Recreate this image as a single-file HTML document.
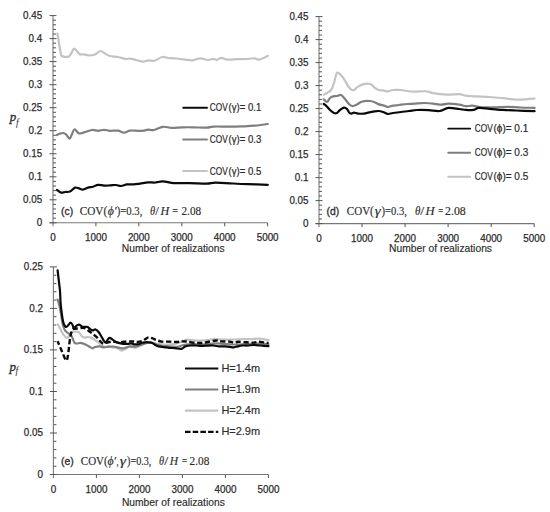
<!DOCTYPE html>
<html><head><meta charset="utf-8"><style>
html,body{margin:0;padding:0;background:#fff;width:550px;height:512px;overflow:hidden}
svg{display:block}
.t{font-family:"Liberation Sans",sans-serif;font-size:10.3px;fill:#2b2b2b;stroke:#2b2b2b;stroke-width:0.25px}
.xl{font-family:"Liberation Sans",sans-serif;font-size:10.2px;fill:#2b2b2b;stroke:#2b2b2b;stroke-width:0.15px}
.lge{font-family:"Liberation Sans",sans-serif;font-size:10.2px;fill:#2b2b2b;stroke:#2b2b2b;stroke-width:0.15px}
.lg{font-family:"Liberation Sans",sans-serif;font-size:10.1px;fill:#2b2b2b;stroke:#2b2b2b;stroke-width:0.2px}
.ann{font-family:"Liberation Sans",sans-serif;font-size:10.4px;fill:#2b2b2b;stroke:#2b2b2b;stroke-width:0.3px}
.se{font-family:"Liberation Serif",serif;font-size:11.6px;fill:#2b2b2b;stroke:#2b2b2b;stroke-width:0.15px;white-space:pre}
.pf{font-family:"Liberation Serif",serif;font-size:13px;font-style:italic;fill:#2b2b2b;stroke:#2b2b2b;stroke-width:0.3px}
.pfs{font-family:"Liberation Serif",serif;font-size:9.5px;font-style:italic;fill:#2b2b2b}
</style></head><body>
<svg width="550" height="512" viewBox="0 0 550 512">
<rect width="550" height="512" fill="#fff"/>
<path d="M53,15.6 V226.3" stroke="#777777" stroke-width="1.1" fill="none"/>
<path d="M49.5,222.8 H267.6" stroke="#777777" stroke-width="1.1" fill="none"/>
<path d="M49.5,222.8 H56.5 M53,218.2 H56 M53,213.6 H56 M53,209 H56 M53,204.4 H56 M49.5,199.8 H56.5 M53,195.2 H56 M53,190.6 H56 M53,186 H56 M53,181.4 H56 M49.5,176.8 H56.5 M53,172.2 H56 M53,167.5 H56 M53,162.9 H56 M53,158.3 H56 M49.5,153.7 H56.5 M53,149.1 H56 M53,144.5 H56 M53,139.9 H56 M53,135.3 H56 M49.5,130.7 H56.5 M53,126.1 H56 M53,121.5 H56 M53,116.9 H56 M53,112.3 H56 M49.5,107.7 H56.5 M53,103.1 H56 M53,98.5 H56 M53,93.9 H56 M53,89.3 H56 M49.5,84.7 H56.5 M53,80.1 H56 M53,75.5 H56 M53,70.9 H56 M53,66.2 H56 M49.5,61.6 H56.5 M53,57 H56 M53,52.4 H56 M53,47.8 H56 M53,43.2 H56 M49.5,38.6 H56.5 M53,34 H56 M53,29.4 H56 M53,24.8 H56 M53,20.2 H56 M49.5,15.6 H56.5 M95.9,222.8 V226.3 M138.8,222.8 V226.3 M181.8,222.8 V226.3 M224.7,222.8 V226.3 M267.6,222.8 V226.3" stroke="#555555" stroke-width="1" fill="none"/>
<text x="36.7" y="226" class="t" textLength="5.5" lengthAdjust="spacingAndGlyphs">0</text>
<text x="23.1" y="203" class="t" textLength="19.1" lengthAdjust="spacingAndGlyphs">0.05</text>
<text x="28.5" y="180" class="t" textLength="13.7" lengthAdjust="spacingAndGlyphs">0.1</text>
<text x="23.1" y="156.9" class="t" textLength="19.1" lengthAdjust="spacingAndGlyphs">0.15</text>
<text x="28.5" y="133.9" class="t" textLength="13.7" lengthAdjust="spacingAndGlyphs">0.2</text>
<text x="23.1" y="110.9" class="t" textLength="19.1" lengthAdjust="spacingAndGlyphs">0.25</text>
<text x="28.5" y="87.9" class="t" textLength="13.7" lengthAdjust="spacingAndGlyphs">0.3</text>
<text x="23.1" y="64.8" class="t" textLength="19.1" lengthAdjust="spacingAndGlyphs">0.35</text>
<text x="28.5" y="41.8" class="t" textLength="13.7" lengthAdjust="spacingAndGlyphs">0.4</text>
<text x="23.1" y="18.8" class="t" textLength="19.1" lengthAdjust="spacingAndGlyphs">0.45</text>
<text x="50.3" y="240.7" class="t" textLength="5.5" lengthAdjust="spacingAndGlyphs">0</text>
<text x="85" y="240.7" class="t" textLength="21.9" lengthAdjust="spacingAndGlyphs">1000</text>
<text x="127.9" y="240.7" class="t" textLength="21.9" lengthAdjust="spacingAndGlyphs">2000</text>
<text x="170.8" y="240.7" class="t" textLength="21.9" lengthAdjust="spacingAndGlyphs">3000</text>
<text x="213.7" y="240.7" class="t" textLength="21.9" lengthAdjust="spacingAndGlyphs">4000</text>
<text x="256.7" y="240.7" class="t" textLength="21.9" lengthAdjust="spacingAndGlyphs">5000</text>
<text x="121.8" y="252.2" class="xl" textLength="102.9" lengthAdjust="spacingAndGlyphs">Number of realizations</text>
<text x="9.8" y="121.1" class="pf">p</text><text x="16" y="125.6" class="pfs">f</text>
<path d="M57.4,33.6 C58,37 60.1,50.2 61,54 C61.9,57.8 61.7,56 63,56.4 C64.3,56.8 67.5,57.1 69,56.4 C70.5,55.7 71.1,53.3 72,52 C72.9,50.7 73.1,48.3 74.4,48.6 C75.7,48.9 78,53 79.6,54 C81.2,55 82.3,54.2 84,54.4 C85.7,54.6 88.2,55.4 90,55.4 C91.8,55.4 93.3,55.1 95,54.4 C96.7,53.7 98.7,51.1 100.4,51 C102.1,50.9 103.4,52.8 105,53.6 C106.6,54.4 107.8,55.4 110,56 C112.2,56.6 115.3,56.5 118,57 C120.7,57.5 124,58.7 126,59 C128,59.3 128.3,58.4 130,58.6 C131.7,58.8 133.8,59.5 136,60 C138.2,60.5 141,61.5 143,61.6 C145,61.7 146.1,60.5 148,60.4 C149.9,60.2 152.1,61.3 154.4,60.7 C156.7,60.1 159.8,57.5 162,57 C164.2,56.5 165.1,57.6 167.5,57.9 C169.9,58.1 173.3,58.2 176.2,58.5 C179.1,58.8 182.3,59.3 185,59.6 C187.7,59.9 190,60.5 192.5,60.3 C195,60.1 197.6,58.3 200.2,58.3 C202.8,58.2 205.6,59.9 207.8,60 C210,60.1 211.9,58.8 213.3,58.8 C214.8,58.8 215.2,60.1 216.5,60 C217.8,59.9 219.2,58 221,57.9 C222.8,57.8 224.8,59.4 227.5,59.6 C230.2,59.8 233.9,59.3 237.3,59.2 C240.8,59.1 245.3,58.9 248.2,58.8 C251.1,58.6 252.9,58.2 254.7,58.3 C256.5,58.4 256.9,60 259.1,59.6 C261.3,59.2 266.4,56.5 267.8,55.9" stroke="#c3c3c3" stroke-width="2.2" fill="none" stroke-linejoin="round" stroke-linecap="round"/>
<path d="M57,135 C57.5,134.8 59,133.9 60,133.6 C61,133.3 62,132.9 63,133 C64,133.1 64.9,133.5 66,134.4 C67.1,135.3 68.6,138.7 69.6,138.6 C70.6,138.5 71.2,135.5 72,134 C72.8,132.5 73.4,129.5 74.6,129.4 C75.8,129.3 77.4,132.9 79,133.4 C80.6,133.9 81.8,133 84,132.4 C86.2,131.8 89.7,130.3 92,130 C94.3,129.7 96,130.8 98,130.8 C100,130.8 102,129.8 104,129.8 C106,129.8 107.7,130.7 110,130.8 C112.3,130.9 115.7,130.3 118,130.6 C120.3,130.9 122,132.6 124,132.6 C126,132.6 127.7,130.9 130,130.6 C132.3,130.3 135.7,130.8 138,130.8 C140.3,130.8 142.3,130.8 144,130.6 C145.7,130.4 146.3,129.7 148,129.6 C149.7,129.5 151.5,130.5 154,130 C156.5,129.5 160,127.1 163,126.8 C166,126.5 168.5,127.8 171.8,127.9 C175.1,128 179.1,127.4 182.7,127.3 C186.3,127.2 189.6,127.2 193.6,127.3 C197.6,127.4 203.4,127.8 206.7,127.7 C210,127.6 210,126.8 213.3,126.6 C216.6,126.4 221.7,126.6 226.4,126.6 C231.1,126.6 236.9,126.6 241.6,126.4 C246.3,126.2 250.3,126.1 254.7,125.7 C259.1,125.3 265.6,124.3 267.8,124" stroke="#7f7f7f" stroke-width="2.2" fill="none" stroke-linejoin="round" stroke-linecap="round"/>
<path d="M57,190 C57.7,190.4 59.7,192.3 61,192.6 C62.3,192.9 63.5,192.2 65,192 C66.5,191.8 68.3,192.3 70,191.6 C71.7,190.9 73.5,188.1 75,187.6 C76.5,187.1 77.7,188.1 79,188.4 C80.3,188.7 81.5,189.7 83,189.6 C84.5,189.5 86.3,188.1 88,187.6 C89.7,187.1 91.3,187.3 93,186.8 C94.7,186.3 96.2,185 98,184.8 C99.8,184.6 102,185.5 104,185.6 C106,185.7 108,185.5 110,185.4 C112,185.3 114.2,184.9 116,185 C117.8,185.1 119.2,186.1 121,186 C122.8,185.9 124.8,184.7 127,184.4 C129.2,184.1 131.8,184.5 134,184.4 C136.2,184.3 137.7,183.9 140,183.6 C142.3,183.3 145.5,182.6 148,182.4 C150.5,182.2 152.5,182.7 155,182.5 C157.5,182.3 159.8,181.2 163,181.3 C166.2,181.4 169.6,182.8 174,183.1 C178.4,183.4 183.9,183 189.3,183.1 C194.8,183.2 202.3,183.8 206.7,183.7 C211.1,183.6 211.1,182.7 215.5,182.7 C219.9,182.7 227.6,183.2 233,183.5 C238.4,183.8 242.2,184 248,184.2 C253.8,184.4 264.5,184.7 267.8,184.8" stroke="#0a0a0a" stroke-width="2.2" fill="none" stroke-linejoin="round" stroke-linecap="round"/>
<path d="M183.2,107.8 H207" stroke="#0a0a0a" stroke-width="1.9" stroke-linecap="round"/>
<text x="209.8" y="111.3" class="lg" textLength="17.9" lengthAdjust="spacingAndGlyphs">COV</text>
<text x="228.5" y="111.3" class="lg" textLength="32.8" lengthAdjust="spacingAndGlyphs">(γ)= 0.1</text>
<path d="M183.2,139.5 H207" stroke="#7f7f7f" stroke-width="1.9" stroke-linecap="round"/>
<text x="209.8" y="143" class="lg" textLength="17.9" lengthAdjust="spacingAndGlyphs">COV</text>
<text x="228.5" y="143" class="lg" textLength="32.8" lengthAdjust="spacingAndGlyphs">(γ)= 0.3</text>
<path d="M183.2,171 H207" stroke="#c3c3c3" stroke-width="1.9" stroke-linecap="round"/>
<text x="209.8" y="174.5" class="lg" textLength="17.9" lengthAdjust="spacingAndGlyphs">COV</text>
<text x="228.5" y="174.5" class="lg" textLength="32.8" lengthAdjust="spacingAndGlyphs">(γ)= 0.5</text>
<text x="61.1" y="215.3" class="ann">(c)</text>
<text x="79.8" y="215.2" class="se" textLength="27.4" lengthAdjust="spacingAndGlyphs">COV(</text>
<text x="107.8" y="215.2" class="se" font-style="italic" textLength="8.7" lengthAdjust="spacingAndGlyphs">ϕ′</text>
<text x="116.7" y="215.2" class="se" textLength="25.7" lengthAdjust="spacingAndGlyphs">)=0.3,</text>
<text x="149.9" y="215.2" class="se" font-style="italic" textLength="5.2" lengthAdjust="spacingAndGlyphs">θ</text>
<text x="155.3" y="215.2" class="se" textLength="3.6" lengthAdjust="spacingAndGlyphs">/</text>
<text x="160.4" y="215.2" class="se" font-style="italic" textLength="8.7" lengthAdjust="spacingAndGlyphs">H</text>
<text x="172.3" y="215.2" class="se" textLength="5.8" lengthAdjust="spacingAndGlyphs">=</text>
<text x="181.5" y="215.2" class="se" textLength="19.6" lengthAdjust="spacingAndGlyphs">2.08</text>
<path d="M319,16.6 V227.1" stroke="#777777" stroke-width="1.1" fill="none"/>
<path d="M315.5,223.6 H534.2" stroke="#777777" stroke-width="1.1" fill="none"/>
<path d="M315.5,223.6 H322.5 M319,219 H322 M319,214.4 H322 M319,209.8 H322 M319,205.2 H322 M315.5,200.6 H322.5 M319,196 H322 M319,191.4 H322 M319,186.8 H322 M319,182.2 H322 M315.5,177.6 H322.5 M319,173 H322 M319,168.4 H322 M319,163.8 H322 M319,159.2 H322 M315.5,154.6 H322.5 M319,150 H322 M319,145.4 H322 M319,140.8 H322 M319,136.2 H322 M315.5,131.6 H322.5 M319,127 H322 M319,122.4 H322 M319,117.8 H322 M319,113.2 H322 M315.5,108.6 H322.5 M319,104 H322 M319,99.4 H322 M319,94.8 H322 M319,90.2 H322 M315.5,85.6 H322.5 M319,81 H322 M319,76.4 H322 M319,71.8 H322 M319,67.2 H322 M315.5,62.6 H322.5 M319,58 H322 M319,53.4 H322 M319,48.8 H322 M319,44.2 H322 M315.5,39.6 H322.5 M319,35 H322 M319,30.4 H322 M319,25.8 H322 M319,21.2 H322 M315.5,16.6 H322.5 M362,223.6 V227.1 M405.1,223.6 V227.1 M448.1,223.6 V227.1 M491.2,223.6 V227.1 M534.2,223.6 V227.1" stroke="#555555" stroke-width="1" fill="none"/>
<text x="303" y="226.8" class="t" textLength="5.5" lengthAdjust="spacingAndGlyphs">0</text>
<text x="289.4" y="203.8" class="t" textLength="19.1" lengthAdjust="spacingAndGlyphs">0.05</text>
<text x="294.8" y="180.8" class="t" textLength="13.7" lengthAdjust="spacingAndGlyphs">0.1</text>
<text x="289.4" y="157.8" class="t" textLength="19.1" lengthAdjust="spacingAndGlyphs">0.15</text>
<text x="294.8" y="134.8" class="t" textLength="13.7" lengthAdjust="spacingAndGlyphs">0.2</text>
<text x="289.4" y="111.8" class="t" textLength="19.1" lengthAdjust="spacingAndGlyphs">0.25</text>
<text x="294.8" y="88.8" class="t" textLength="13.7" lengthAdjust="spacingAndGlyphs">0.3</text>
<text x="289.4" y="65.8" class="t" textLength="19.1" lengthAdjust="spacingAndGlyphs">0.35</text>
<text x="294.8" y="42.8" class="t" textLength="13.7" lengthAdjust="spacingAndGlyphs">0.4</text>
<text x="289.4" y="19.8" class="t" textLength="19.1" lengthAdjust="spacingAndGlyphs">0.45</text>
<text x="316.3" y="241.6" class="t" textLength="5.5" lengthAdjust="spacingAndGlyphs">0</text>
<text x="351.1" y="241.6" class="t" textLength="21.9" lengthAdjust="spacingAndGlyphs">1000</text>
<text x="394.1" y="241.6" class="t" textLength="21.9" lengthAdjust="spacingAndGlyphs">2000</text>
<text x="437.2" y="241.6" class="t" textLength="21.9" lengthAdjust="spacingAndGlyphs">3000</text>
<text x="480.2" y="241.6" class="t" textLength="21.9" lengthAdjust="spacingAndGlyphs">4000</text>
<text x="523.3" y="241.6" class="t" textLength="21.9" lengthAdjust="spacingAndGlyphs">5000</text>
<text x="389.1" y="252" class="xl" textLength="102.9" lengthAdjust="spacingAndGlyphs">Number of realizations</text>
<path d="M323.8,94.6 C324.3,94.3 325.8,93.8 327,93 C328.2,92.2 329.8,91.7 331,90 C332.2,88.3 333.2,85.5 334,83 C334.8,80.5 335.4,76.7 336,75 C336.6,73.3 336.7,72.8 337.4,72.6 C338.1,72.4 338.9,72.9 340,74 C341.1,75.1 342.7,77 344,79 C345.3,81 346.8,84.3 348,86 C349.2,87.7 350,88.7 351,89.4 C352,90.1 352.8,90.5 354,90 C355.2,89.5 356.5,87.5 358,86.6 C359.5,85.7 361.3,84.9 363,84.4 C364.7,83.9 366.5,83.5 368,83.6 C369.5,83.7 370.8,84.3 372,85 C373.2,85.7 373.8,87.2 375,88 C376.2,88.8 377.7,89.6 379,90 C380.3,90.4 381.5,90.2 383,90.4 C384.5,90.6 386.3,91.5 388,91.4 C389.7,91.3 390.8,90.2 393,90 C395.2,89.8 398.7,89.8 401,90 C403.3,90.2 404.7,90.7 407,91 C409.3,91.3 411.8,91.5 415,91.6 C418.2,91.6 423.5,91 426.5,91.3 C429.5,91.5 429.7,92.5 433,93.1 C436.3,93.6 441.8,94.4 446.2,94.6 C450.6,94.8 456,94 459.3,94.2 C462.6,94.4 462.9,95.3 465.8,95.7 C468.7,96.1 472.7,96.2 476.7,96.4 C480.7,96.6 485.4,96.7 489.8,97 C494.2,97.3 498.5,97.7 502.9,98.1 C507.3,98.5 512,99.4 516,99.6 C520,99.8 523.8,99.4 526.9,99.2 C530,99 533.3,98.6 534.6,98.5" stroke="#c3c3c3" stroke-width="2.2" fill="none" stroke-linejoin="round" stroke-linecap="round"/>
<path d="M323.8,99.3 C324.3,99.8 326,102.2 327,102 C328,101.8 329,98.9 330,98 C331,97.1 331.8,96.7 333,96.4 C334.2,96.1 335.7,96.2 337,96 C338.3,95.8 339.7,94.5 341,95 C342.3,95.5 343.7,97.5 345,99 C346.3,100.5 347.8,102.8 349,104 C350.2,105.2 350.8,105.8 352,106 C353.2,106.2 354.5,105.7 356,105 C357.5,104.3 359.5,102.7 361,102 C362.5,101.3 363.5,101.2 365,101 C366.5,100.8 368.5,100.8 370,101 C371.5,101.2 372.5,101.4 374,102 C375.5,102.6 377.3,103.8 379,104.4 C380.7,105 382.5,105.2 384,105.6 C385.5,106 386.5,107 388,107 C389.5,107 391.2,105.9 393,105.6 C394.8,105.3 396.7,105.3 399,105 C401.3,104.7 404.3,104.2 407,104 C409.7,103.8 412,103.8 415,103.6 C418,103.4 422,103 425,103 C428,103 430.2,103.3 433,103.6 C435.8,103.9 439.2,104.7 441.8,104.7 C444.4,104.7 445.5,103.6 448.4,103.6 C451.3,103.6 456.4,104.3 459.3,104.7 C462.2,105.1 463.6,106 465.8,106.2 C468,106.4 469.9,105.5 472.4,105.7 C474.9,105.9 477.4,107 481,107.3 C484.6,107.6 489.8,107.4 494.2,107.3 C498.6,107.2 502.9,106.8 507.3,106.8 C511.7,106.8 515.9,107.3 520.4,107.5 C524.9,107.7 532.2,107.8 534.6,107.9" stroke="#7f7f7f" stroke-width="2.2" fill="none" stroke-linejoin="round" stroke-linecap="round"/>
<path d="M323.8,104 C324.2,104.3 325,104.6 326,105.6 C327,106.6 328.7,108.8 330,110 C331.3,111.2 332.8,112.5 334,113 C335.2,113.5 336,113.5 337,113 C338,112.5 338.8,110.9 340,110 C341.2,109.1 342.8,107.8 344,107.6 C345.2,107.4 346.2,108.2 347,109 C347.8,109.8 348.3,111.6 349,112.4 C349.7,113.2 350.2,113.6 351,113.6 C351.8,113.6 352.8,112.6 354,112.6 C355.2,112.6 356.3,113.4 358,113.6 C359.7,113.8 362.2,113.8 364,113.6 C365.8,113.4 367.5,112.7 369,112.4 C370.5,112.1 371.3,111.8 373,111.6 C374.7,111.4 377.3,110.9 379,111 C380.7,111.1 381.5,111.5 383,112 C384.5,112.5 386.3,113.8 388,114 C389.7,114.2 390.8,113.3 393,113 C395.2,112.7 398.3,112.3 401,112 C403.7,111.7 406.3,111.3 409,111 C411.7,110.7 413.7,110.2 417,110 C420.3,109.8 424.9,109.9 428.7,110.1 C432.5,110.3 436.3,111.4 439.6,111 C442.9,110.6 445.1,108.2 448.4,107.9 C451.7,107.6 456.4,108.7 459.3,109 C462.2,109.3 463.4,109.8 465.8,109.9 C468.2,110.1 471.3,110.2 473.5,109.9 C475.7,109.6 476.2,108.1 478.9,107.9 C481.6,107.7 485.8,108.5 489.8,108.8 C493.8,109.1 498.5,109.6 502.9,109.9 C507.3,110.2 510.7,110.3 516,110.5 C521.3,110.7 531.5,111.1 534.6,111.2" stroke="#0a0a0a" stroke-width="2.2" fill="none" stroke-linejoin="round" stroke-linecap="round"/>
<path d="M448.2,128.6 H470.2" stroke="#0a0a0a" stroke-width="1.9" stroke-linecap="round"/>
<text x="474.8" y="132.1" class="lg" textLength="17.9" lengthAdjust="spacingAndGlyphs">COV</text>
<text x="493.5" y="132.1" class="lg" textLength="34.7" lengthAdjust="spacingAndGlyphs">(ϕ)= 0.1</text>
<path d="M448.2,152.8 H470.2" stroke="#7f7f7f" stroke-width="1.9" stroke-linecap="round"/>
<text x="474.8" y="156.3" class="lg" textLength="17.9" lengthAdjust="spacingAndGlyphs">COV</text>
<text x="493.5" y="156.3" class="lg" textLength="34.7" lengthAdjust="spacingAndGlyphs">(ϕ)= 0.3</text>
<path d="M448.2,176.8 H470.2" stroke="#c3c3c3" stroke-width="1.9" stroke-linecap="round"/>
<text x="474.8" y="180.3" class="lg" textLength="17.9" lengthAdjust="spacingAndGlyphs">COV</text>
<text x="493.5" y="180.3" class="lg" textLength="34.7" lengthAdjust="spacingAndGlyphs">(ϕ)= 0.5</text>
<text x="326.5" y="215.1" class="ann">(d)</text>
<text x="346.8" y="215.1" class="se" textLength="27" lengthAdjust="spacingAndGlyphs">COV(</text>
<text x="374.8" y="215.1" class="se" font-style="italic" textLength="6" lengthAdjust="spacingAndGlyphs">γ</text>
<text x="381.5" y="215.1" class="se" textLength="25.4" lengthAdjust="spacingAndGlyphs">)=0.3,</text>
<text x="414.9" y="215.1" class="se" font-style="italic" textLength="5.4" lengthAdjust="spacingAndGlyphs">θ</text>
<text x="420.2" y="215.1" class="se" textLength="3.9" lengthAdjust="spacingAndGlyphs">/</text>
<text x="425.4" y="215.1" class="se" font-style="italic" textLength="9.1" lengthAdjust="spacingAndGlyphs">H</text>
<text x="438.3" y="215.1" class="se" textLength="4.9" lengthAdjust="spacingAndGlyphs">=</text>
<text x="445.1" y="215.1" class="se" textLength="20.7" lengthAdjust="spacingAndGlyphs">2.08</text>
<path d="M53.4,266.9 V478" stroke="#777777" stroke-width="1.1" fill="none"/>
<path d="M49.9,474.5 H268.4" stroke="#777777" stroke-width="1.1" fill="none"/>
<path d="M49.9,474.5 H56.9 M53.4,466.2 H56.4 M53.4,457.9 H56.4 M53.4,449.6 H56.4 M53.4,441.3 H56.4 M49.9,433 H56.9 M53.4,424.7 H56.4 M53.4,416.4 H56.4 M53.4,408.1 H56.4 M53.4,399.8 H56.4 M49.9,391.5 H56.9 M53.4,383.2 H56.4 M53.4,374.9 H56.4 M53.4,366.5 H56.4 M53.4,358.2 H56.4 M49.9,349.9 H56.9 M53.4,341.6 H56.4 M53.4,333.3 H56.4 M53.4,325 H56.4 M53.4,316.7 H56.4 M49.9,308.4 H56.9 M53.4,300.1 H56.4 M53.4,291.8 H56.4 M53.4,283.5 H56.4 M53.4,275.2 H56.4 M49.9,266.9 H56.9 M96.4,474.5 V478 M139.4,474.5 V478 M182.4,474.5 V478 M225.4,474.5 V478 M268.4,474.5 V478" stroke="#555555" stroke-width="1" fill="none"/>
<text x="37.4" y="477.7" class="t" textLength="5.5" lengthAdjust="spacingAndGlyphs">0</text>
<text x="23.8" y="436.2" class="t" textLength="19.1" lengthAdjust="spacingAndGlyphs">0.05</text>
<text x="29.2" y="394.7" class="t" textLength="13.7" lengthAdjust="spacingAndGlyphs">0.1</text>
<text x="23.8" y="353.1" class="t" textLength="19.1" lengthAdjust="spacingAndGlyphs">0.15</text>
<text x="29.2" y="311.6" class="t" textLength="13.7" lengthAdjust="spacingAndGlyphs">0.2</text>
<text x="23.8" y="270.1" class="t" textLength="19.1" lengthAdjust="spacingAndGlyphs">0.25</text>
<text x="50.7" y="492.7" class="t" textLength="5.5" lengthAdjust="spacingAndGlyphs">0</text>
<text x="85.5" y="492.7" class="t" textLength="21.9" lengthAdjust="spacingAndGlyphs">1000</text>
<text x="128.5" y="492.7" class="t" textLength="21.9" lengthAdjust="spacingAndGlyphs">2000</text>
<text x="171.5" y="492.7" class="t" textLength="21.9" lengthAdjust="spacingAndGlyphs">3000</text>
<text x="214.5" y="492.7" class="t" textLength="21.9" lengthAdjust="spacingAndGlyphs">4000</text>
<text x="257.5" y="492.7" class="t" textLength="21.9" lengthAdjust="spacingAndGlyphs">5000</text>
<text x="121.9" y="505.5" class="xl" textLength="102.9" lengthAdjust="spacingAndGlyphs">Number of realizations</text>
<text x="9.6" y="370.6" class="pf">p</text><text x="15.6" y="373.8" class="pfs">f</text>
<path d="M57.9,324.4 C58.2,325.1 59.1,326.8 60,328.4 C60.9,330 62.1,332.6 63,334 C63.9,335.4 64.8,336.4 65.5,337 C66.2,337.6 66.7,338.1 67.3,337.9 C67.9,337.7 68.5,336.9 69.2,336 C69.9,335.1 70.7,332.9 71.6,332.2 C72.5,331.4 73.3,331.5 74.5,331.5 C75.7,331.5 77.7,331.5 78.9,332.3 C80.1,333.1 80.8,335.3 81.8,336.2 C82.8,337.1 83.7,337.6 84.7,337.7 C85.7,337.8 86.5,337 87.6,337 C88.7,337 90.1,337.3 91.3,337.8 C92.5,338.3 93.5,339.1 94.9,340 C96.3,340.9 98,342.3 99.5,343.4 C101,344.5 102.6,346.3 104.1,346.8 C105.6,347.3 107.1,346.4 108.6,346.5 C110.1,346.6 111.7,347.1 113.2,347.4 C114.7,347.7 116.3,347.8 117.7,348.3 C119.1,348.8 120.2,350.5 121.4,350.6 C122.6,350.8 123.7,349.9 125,349.2 C126.3,348.5 127.8,346.9 129.5,346.6 C131.2,346.3 133.8,347.6 135.3,347.6 C136.8,347.6 137.2,347 138.5,346.5 C139.8,346 141.2,345.3 142.9,344.6 C144.6,343.9 146.2,342.7 148.4,342.5 C150.6,342.3 153.2,343.2 156,343.5 C158.8,343.8 161.8,344.4 165,344.5 C168.2,344.6 172.2,344.3 175,343.8 C177.8,343.3 180,342.2 182,341.5 C184,340.8 184.7,339.8 187.1,339.6 C189.5,339.5 193.2,340.5 196.2,340.6 C199.2,340.7 202,340.6 205,340.4 C208,340.2 211.3,339.3 214.4,339.2 C217.5,339.1 220.4,339.6 223.5,339.6 C226.6,339.7 230,339.6 233.1,339.5 C236.2,339.4 239.2,339.2 242.2,339.1 C245.2,339 248.3,339.2 251.3,339.1 C254.3,339 257.5,338.5 260.4,338.7 C263.3,338.9 267.1,339.9 268.5,340.2" stroke="#c3c3c3" stroke-width="2.2" fill="none" stroke-linejoin="round" stroke-linecap="round"/>
<path d="M57.6,299.6 C57.9,300.5 58.8,303.3 59.2,305 C59.7,306.7 59.9,308 60.3,310 C60.7,312 61.1,314.4 61.5,317 C61.9,319.6 62.3,323.1 62.9,325.3 C63.5,327.5 64.2,329.1 65.1,330.4 C65.9,331.7 67.1,332.4 68,333.1 C68.9,333.8 69.9,333.6 70.6,334.4 C71.3,335.2 71.8,336.4 72.4,337.8 C73.1,339.2 73.7,341.8 74.5,342.7 C75.3,343.6 76,343.5 77,343.5 C78,343.5 79,342.8 80.4,342.9 C81.8,343 83.9,343.7 85.5,344.4 C87.1,345.1 88.9,346.5 90.1,347.1 C91.3,347.8 91.7,348.3 92.5,348.3 C93.3,348.3 93.8,347.3 95,347 C96.2,346.7 98,346.3 99.5,346.4 C101,346.5 102.6,347.3 104.1,347.4 C105.6,347.4 107.1,346.8 108.6,346.7 C110.1,346.6 111.7,346.4 113.2,346.5 C114.7,346.6 116.2,347.1 117.7,347.4 C119.2,347.7 121,348.2 122.3,348.3 C123.6,348.4 124.3,348.1 125.5,347.8 C126.7,347.5 127.8,346.7 129.5,346.5 C131.2,346.3 134.1,346.9 135.9,346.6 C137.7,346.4 138.9,345.6 140.5,345 C142.1,344.4 143.8,343.6 145.6,343.1 C147.4,342.7 149.3,342.1 151.1,342.3 C152.9,342.5 154.7,343.9 156.5,344.5 C158.3,345.1 160.5,345.9 162,346.2 C163.5,346.5 163.7,346.1 165.5,346.2 C167.3,346.3 170.6,346.6 172.7,346.7 C174.8,346.8 176.2,347.1 178,346.8 C179.8,346.5 181.2,345.4 183.5,345 C185.8,344.6 188.7,344.2 191.6,344.1 C194.5,344 197.7,344.5 200.7,344.5 C203.7,344.5 207.2,344.3 209.8,344.1 C212.4,343.9 213.9,343.3 216.2,343.3 C218.5,343.3 221.5,343.9 223.5,344 C225.5,344.1 226.1,344.1 228,344.2 C229.9,344.3 231.8,344.5 234.9,344.5 C238,344.5 243.2,344.2 246.7,344.1 C250.2,344 252.2,343.6 255.8,343.6 C259.4,343.6 266.4,343.9 268.5,344" stroke="#7f7f7f" stroke-width="2.2" fill="none" stroke-linejoin="round" stroke-linecap="round"/>
<path d="M57.6,270.4 C58,273.7 59.4,285.1 59.9,290 C60.4,294.9 60.2,296.7 60.4,300 C60.6,303.3 60.9,306.8 61.3,310 C61.7,313.2 62.2,316.7 62.6,319 C63,321.3 63.3,322.7 63.8,324 C64.3,325.3 65.1,326.6 65.8,326.9 C66.5,327.1 67.2,326.2 68,325.5 C68.8,324.8 69.8,322.6 70.5,322.5 C71.2,322.4 71.9,323.7 72.4,324.7 C73,325.7 73.3,328 73.8,328.4 C74.3,328.8 74.9,327.5 75.4,327 C75.9,326.5 76.2,325.8 76.9,325.4 C77.6,325 78.8,324.5 79.6,324.7 C80.4,324.9 80.9,326 81.8,326.4 C82.7,326.8 83.7,326.8 84.7,326.9 C85.7,327 86.6,326.5 87.6,326.9 C88.6,327.3 89.7,328.8 90.5,329.4 C91.3,330 91.9,330.4 92.7,330.4 C93.5,330.4 94.6,329.2 95.6,329.5 C96.6,329.8 97.6,330.8 98.6,332 C99.6,333.2 100.5,335 101.4,336.5 C102.3,338 103.3,340.1 104.1,341.1 C104.8,342.1 105.3,342.7 105.9,342.5 C106.5,342.3 107.1,340.5 107.7,339.7 C108.3,338.9 108.7,338 109.5,337.9 C110.3,337.8 111.4,338.7 112.3,339.3 C113.2,339.9 114,340.9 115,341.5 C116,342.1 117.2,342.5 118.6,342.9 C120,343.3 121.7,343.6 123.2,343.8 C124.7,344 126.3,343.9 127.7,343.8 C129.1,343.7 130.2,343.3 131.4,343.4 C132.6,343.5 133.5,344.3 134.7,344.4 C135.9,344.5 137.3,344.5 138.5,344.2 C139.7,343.9 140.7,343.1 141.8,342.8 C142.9,342.5 144,342.4 145.1,342.3 C146.2,342.2 147.3,342.2 148.4,342.3 C149.5,342.4 150.5,342.4 151.6,342.8 C152.7,343.2 153.8,344.1 154.9,344.7 C156.1,345.3 157,346 158.5,346.4 C160,346.8 162.2,346.9 164,347.1 C165.8,347.3 167.3,347.6 169.1,347.8 C170.9,348 172.8,348 174.9,348.2 C177,348.4 179.9,349.1 181.6,348.8 C183.3,348.5 183.8,346.9 185.3,346.4 C186.8,345.8 188.9,345.6 190.7,345.5 C192.5,345.4 194.4,345.4 196.2,345.5 C198,345.6 199.6,345.9 201.6,345.9 C203.6,345.9 206,345.7 208,345.6 C210,345.5 211.7,345.4 213.5,345.5 C215.3,345.6 217.2,346.2 218.9,346.4 C220.7,346.5 222.2,346.3 224,346.4 C225.8,346.5 227.8,346.6 229.5,346.8 C231.2,347 232.7,347.4 234,347.3 C235.3,347.2 236.2,346.7 237.6,346.4 C239,346.1 240.5,345.6 242.2,345.5 C243.9,345.4 245.6,345.6 247.6,345.5 C249.6,345.4 251.9,345 254,345 C256.1,345 258,345.3 260.4,345.5 C262.8,345.7 267.1,346.1 268.5,346.2" stroke="#0a0a0a" stroke-width="2.2" fill="none" stroke-linejoin="round" stroke-linecap="round"/>
<path d="M57.6,341.3 C58.3,342.9 60.4,347.8 61.8,351 C63.2,354.2 65,359.5 66,360.3 C67,361.1 67.3,358.9 67.9,355.8 C68.5,352.7 69.1,345.3 69.6,341.7 C70.1,338.1 70.4,336.2 70.9,334.2 C71.4,332.2 71.8,330.7 72.4,329.8 C73,328.9 73.4,328.9 74.5,328.7 C75.6,328.5 77.4,328.5 78.9,328.4 C80.4,328.2 82,327.7 83.3,327.8 C84.6,327.9 85.5,328.4 86.5,329 C87.5,329.6 88.3,330.6 89.1,331.2 C89.9,331.8 90.3,332 91.3,332.7 C92.3,333.4 93.8,334.7 94.9,335.6 C96,336.5 96.9,337.2 97.8,338.2 C98.7,339.2 99.6,340.6 100.5,341.5 C101.4,342.4 102.1,343.4 103.2,343.6 C104.3,343.8 105.5,342.8 107,342.5 C108.5,342.2 110.5,341.6 112.3,341.6 C114.1,341.6 115.3,342.4 117.7,342.4 C120.1,342.4 124.2,341.6 126.8,341.5 C129.4,341.4 131.8,341.4 133.6,341.5 C135.4,341.6 136.1,342.1 137.5,342 C138.9,341.9 140.5,341.6 141.8,341.2 C143.1,340.8 144,339.9 145.1,339.3 C146.2,338.7 147.2,337.6 148.4,337.4 C149.6,337.2 150.8,337.8 152.2,338.2 C153.5,338.6 154.9,339.5 156.5,340.1 C158.1,340.7 159.7,341.4 161.8,341.6 C163.9,341.9 166.7,341.5 169.1,341.6 C171.5,341.7 174.3,342 176.4,342 C178.5,342 179.8,341.5 181.6,341.4 C183.4,341.3 185,341.4 187.1,341.6 C189.2,341.8 192,342.5 194.4,342.7 C196.8,342.9 199.2,343.1 201.6,343 C204,342.9 206.5,342.2 208.9,341.8 C211.3,341.4 214.1,340.6 216.2,340.5 C218.3,340.4 219.4,341.2 221.6,341.4 C223.8,341.6 227.4,341.4 229.5,341.6 C231.6,341.8 232.5,342.6 234,342.6 C235.5,342.6 236.4,341.9 238.5,341.8 C240.6,341.8 244.1,342.2 246.7,342.3 C249.3,342.4 252,342.7 254,342.6 C256,342.5 256.8,341.8 258.5,341.8 C260.2,341.8 262.3,342.2 264,342.4 C265.7,342.6 267.8,343 268.5,343.1" stroke="#0a0a0a" stroke-width="2.4" fill="none" stroke-dasharray="5.2 2.6" stroke-dashoffset="1.3" stroke-linejoin="round"/>
<path d="M185,368.5 H218.3" stroke="#0a0a0a" stroke-width="2.2"/>
<text x="221.4" y="371.8" class="lge" textLength="38.7" lengthAdjust="spacingAndGlyphs">H=1.4m</text>
<path d="M185,389.5 H218.3" stroke="#7f7f7f" stroke-width="2.2"/>
<text x="221.4" y="392.8" class="lge" textLength="38.7" lengthAdjust="spacingAndGlyphs">H=1.9m</text>
<path d="M185,410.7 H218.3" stroke="#c3c3c3" stroke-width="2.2"/>
<text x="221.4" y="414" class="lge" textLength="38.7" lengthAdjust="spacingAndGlyphs">H=2.4m</text>
<path d="M185,431.9 H218.3" stroke="#0a0a0a" stroke-width="2.2" stroke-dasharray="5.5 2.2"/>
<text x="221.4" y="435.2" class="lge" textLength="38.7" lengthAdjust="spacingAndGlyphs">H=2.9m</text>
<text x="61.1" y="465.4" class="ann">(e)</text>
<text x="80.8" y="465.4" class="se" textLength="26.9" lengthAdjust="spacingAndGlyphs">COV(</text>
<text x="107.5" y="465.4" class="se" font-style="italic" textLength="8.7" lengthAdjust="spacingAndGlyphs">ϕ′</text>
<text x="116.6" y="465.4" class="se" textLength="2" lengthAdjust="spacingAndGlyphs">,</text>
<text x="119.7" y="465.4" class="se" font-style="italic" textLength="6.3" lengthAdjust="spacingAndGlyphs">γ</text>
<text x="127" y="465.4" class="se" textLength="24.4" lengthAdjust="spacingAndGlyphs">)=0.3,</text>
<text x="159" y="465.4" class="se" font-style="italic" textLength="5.1" lengthAdjust="spacingAndGlyphs">θ</text>
<text x="164.3" y="465.4" class="se" textLength="4" lengthAdjust="spacingAndGlyphs">/</text>
<text x="169.8" y="465.4" class="se" font-style="italic" textLength="8.3" lengthAdjust="spacingAndGlyphs">H</text>
<text x="181.9" y="465.4" class="se" textLength="5.1" lengthAdjust="spacingAndGlyphs">=</text>
<text x="189.5" y="465.4" class="se" textLength="19.8" lengthAdjust="spacingAndGlyphs">2.08</text>
</svg>
</body></html>
